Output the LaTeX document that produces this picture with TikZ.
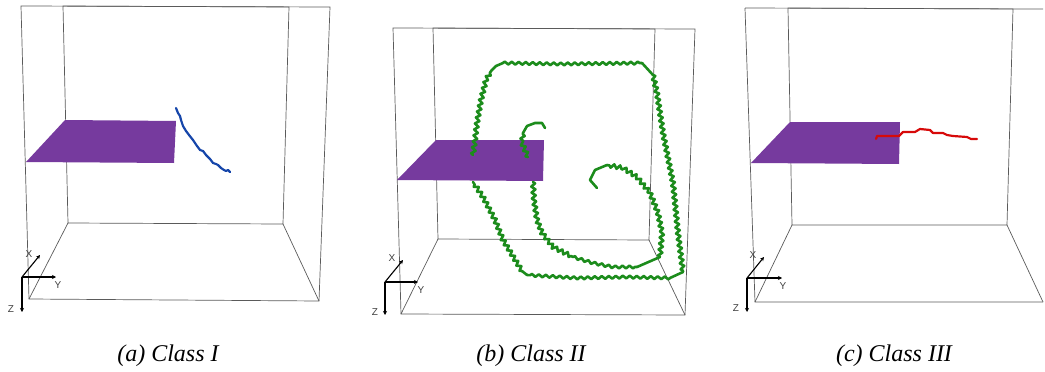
\documentclass[tikz,border=0pt]{standalone}
\usepackage{fontspec}
\setmainfont{Liberation Serif}
\newfontfamily\axfont{Liberation Sans}
\usetikzlibrary{decorations.pathmorphing,arrows.meta}
\definecolor{planecol}{RGB}{118,58,158}
\definecolor{bluecol}{RGB}{22,70,170}
\definecolor{greencol}{RGB}{28,140,28}
\definecolor{redcol}{RGB}{215,10,10}
\definecolor{boxcol}{RGB}{90,90,90}
\tikzset{
  boxline/.style={draw=boxcol,line width=0.7pt},
  plane/.style={fill=planecol,draw=none},
  bluepath/.style={draw=bluecol,line width=2.2pt,line join=round,line cap=round},
  redpath/.style={draw=redcol,line width=2.2pt,line join=round,line cap=round},
  greenpath/.style={draw=greencol,line width=2.6pt,line join=round,line cap=round,
     decorate,decoration={zigzag,segment length=6pt,amplitude=2pt}},
  greenflat/.style={draw=greencol,line width=2.6pt,line join=round,line cap=round,
     decorate,decoration={zigzag,segment length=7pt,amplitude=1.4pt}},
  greenplain/.style={draw=greencol,line width=2.6pt,line join=round,line cap=round},
  axarrow/.style={draw=black,line width=1.1pt,-{Stealth[length=4pt,width=4pt]}},
  axlabel/.style={font=\axfont\fontsize{10}{11}\selectfont,text=black!75,inner sep=0pt},
  caption/.style={font=\itshape\fontsize{24}{26}\selectfont,inner sep=0pt}
}
\begin{document}
\begin{tikzpicture}[x=1pt,y=-1pt]
\useasboundingbox (0,0) rectangle (1045,372);
% ---------- panel (a) ----------
\coordinate (aF1) at (21,6);   \coordinate (aF2) at (330,7);
\coordinate (aF3) at (319,301);\coordinate (aF4) at (29,299);
\coordinate (aB1) at (63,6);   \coordinate (aB2) at (289,7);
\coordinate (aB3) at (283,224);\coordinate (aB4) at (68,223);
\draw[boxline] (aF1) -- (aF2) -- (aF3) -- (aF4) -- cycle;
\draw[boxline] (aB1) -- (aB2) -- (aB3) -- (aB4) -- cycle;
\draw[boxline] (aB4) -- (aF4) (aB3) -- (aF3);
\fill[plane] (26,162) -- (65,120) -- (176,121) -- (174,163) -- cycle;
\draw[bluepath] (176,108) -- (178,113) -- (180,116) -- (181,120) -- (183,126) -- (186,131)
  -- (189,135) -- (193,140) -- (197,146) -- (200,150) -- (203,151) -- (206,155)
  -- (210,159) -- (213,163) -- (216,164) -- (218,165) -- (221,168) -- (224,170)
  -- (226,171) -- (228,170) -- (230,172);
\coordinate (aO) at (22,277);
\draw[axarrow] (aO) -- (40,255);
\draw[axarrow] (aO) -- (56,277);
\draw[axarrow] (aO) -- (22,312);
\node[axlabel] (aX) at (29,254) {X};
\node[axlabel] (aY) at (58,285) {Y};
\node[axlabel] (aZ) at (11,309) {Z};
\node[caption] (capa) at (168,356) {(a) Class I};
% ---------- panel (b) ----------
\coordinate (bF1) at (393,28);  \coordinate (bF2) at (695,29);
\coordinate (bF3) at (685,315); \coordinate (bF4) at (401,314);
\coordinate (bB1) at (433,28);  \coordinate (bB2) at (655,29);
\coordinate (bB3) at (649,240); \coordinate (bB4) at (438,239);
\draw[boxline] (bF1) -- (bF2) -- (bF3) -- (bF4) -- cycle;
\draw[boxline] (bB1) -- (bB2) -- (bB3) -- (bB4) -- cycle;
\draw[boxline] (bB4) -- (bF4) (bB3) -- (bF3);
\fill[plane] (397,180) -- (436,140) -- (544,140) -- (543,181) -- cycle;
% big loop
\draw[greenpath] (473,155) -- (475,140) -- (477,123) -- (481,100) -- (486,80) -- (491,71);
\draw[greenplain] (491,71) -- (496,66) -- (503,63);
\draw[greenflat] (503,63) -- (560,64) -- (642,63);
\draw[greenplain] (642,63) -- (653,75);
\draw[greenpath] (653,75) -- (657,93) -- (663,133) -- (673,183) -- (678,233) -- (683,272);
\draw[greenplain] (683,272) -- (670,278);
\draw[greenflat] (670,278) -- (627,277) -- (577,278) -- (527,275);
\draw[greenplain] (527,275) -- (522,271);
\draw[greenpath] (522,271) -- (503,240) -- (495,220) -- (483,197) -- (473,182);
% spiral
\draw[greenpath] (528,157) -- (522,143) -- (523,133);
\draw[greenplain] (523,133) -- (527,126) -- (535,123) -- (542,123) -- (545,128);
\draw[greenpath] (533,182) -- (534,200) -- (537,220) -- (542,233) -- (553,247) -- (573,257);
\draw[greenflat] (573,257) -- (593,263) -- (613,267) -- (637,267);
\draw[greenplain] (637,267) -- (660,257);
\draw[greenpath] (660,257) -- (662,233) -- (658,213) -- (650,193) -- (637,177) -- (623,168) -- (607,165);
\draw[greenplain] (607,165) -- (595,170) -- (590,180) -- (597,188);
\coordinate (bO) at (385,282);
\draw[axarrow] (bO) -- (403,260);
\draw[axarrow] (bO) -- (418,282);
\draw[axarrow] (bO) -- (385,315);
\node[axlabel] (bX) at (392,258) {X};
\node[axlabel] (bY) at (421,290) {Y};
\node[axlabel] (bZ) at (375,312) {Z};
\node[caption] (capb) at (531,356) {(b) Class II};
% ---------- panel (c) ----------
\coordinate (cF1) at (745,8);   \coordinate (cF2) at (1043,9);
\coordinate (cF3) at (1043,302);\coordinate (cF4) at (755,302);
\coordinate (cB1) at (788,8);   \coordinate (cB2) at (1013,9);
\coordinate (cB3) at (1007,225);\coordinate (cB4) at (792,225);
\draw[boxline] (cF1) -- (cF2) (cF3) -- (cF4) -- (cF1);
\draw[boxline] (cB1) -- (cB2) -- (cB3) -- (cB4) -- cycle;
\draw[boxline] (cB4) -- (cF4) (cB3) -- (cF3);
\fill[plane] (751,163) -- (790,122) -- (900,122) -- (899,164) -- cycle;
\draw[redpath] (876,139) -- (877,136) -- (899,136) -- (901,134) -- (903,132) -- (915,132)
  -- (920,129) -- (930,130) -- (933,133) -- (943,133) -- (947,135) -- (953,136)
  -- (967,137) -- (971,139) -- (977,139);
\coordinate (cO) at (747,278);
\draw[axarrow] (cO) -- (764,257);
\draw[axarrow] (cO) -- (782,278);
\draw[axarrow] (cO) -- (747,312);
\node[axlabel] (cX) at (753,255) {X};
\node[axlabel] (cY) at (783,286) {Y};
\node[axlabel] (cZ) at (736,308) {Z};
\node[caption] (capc) at (894,356) {(c) Class III};
\end{tikzpicture}
\end{document}
